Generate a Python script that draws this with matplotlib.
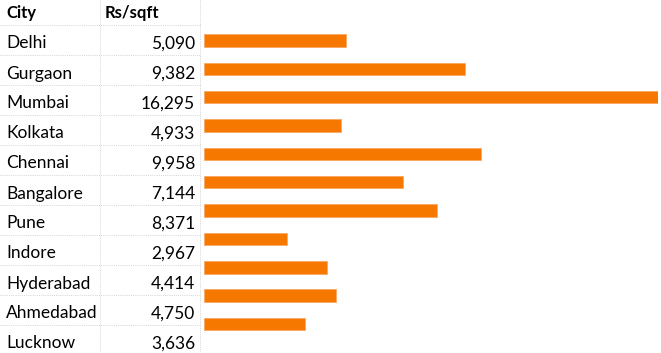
import matplotlib.pyplot as plt
import numpy as np

plt.rcParams['font.family'] = ['Lato', 'DejaVu Sans']

cities = ["Delhi", "Gurgaon", "Mumbai", "Kolkata", "Chennai", "Bangalore",
          "Pune", "Indore", "Hyderabad", "Ahmedabad", "Lucknow"]
rates = [5090, 9382, 16295, 4933, 9958, 7144, 8371, 2967, 4414, 4750, 3636]
headers = ["City", "Rs/sqft"]

W, H = 661, 353
fig = plt.figure(figsize=(W / 100, H / 100), dpi=100)

# table part, drawn in pixel coords
tab = fig.add_axes([0, 0, 1, 1])
tab.set_xlim(0, W)
tab.set_ylim(H, 0)
tab.axis("off")

grid_kw = dict(color="#d4d4d4", lw=0.7, ls=(0, (1, 1.2)))
for x in [100, 200]:
    tab.plot([x, x], [0, H], **grid_kw)
for k in range(len(cities)):
    y = 25 + 30 * k
    tab.plot([0, 200], [y, y], **grid_kw)

fs = 12.5
tab.text(6, 13, headers[0], fontsize=fs - 0.5, fontweight="bold", va="center")
tab.text(105, 13, headers[1], fontsize=fs - 0.5, fontweight="bold", va="center")
for i, (c, r) in enumerate(zip(cities, rates)):
    yc = 43.5 + 30 * i
    tab.text(6, yc, c, fontsize=fs, va="center")
    tab.text(195, yc, f"{r:,}", fontsize=fs, va="center", ha="right")

# bars
top, bot = 40.5 - 14.2, 324 + 14.2
ax = fig.add_axes([204 / W, (H - bot) / H, (658 - 204) / W, (bot - top) / H])
ax.barh(np.arange(len(cities)), rates, height=0.44, color="#F67800",
        edgecolor="#F9A55A", linewidth=0.5)
ax.set_xlim(0, max(rates))
ax.set_ylim(len(cities) - 0.5, -0.5)
ax.axis("off")

fig.savefig("out.png", dpi=100)
